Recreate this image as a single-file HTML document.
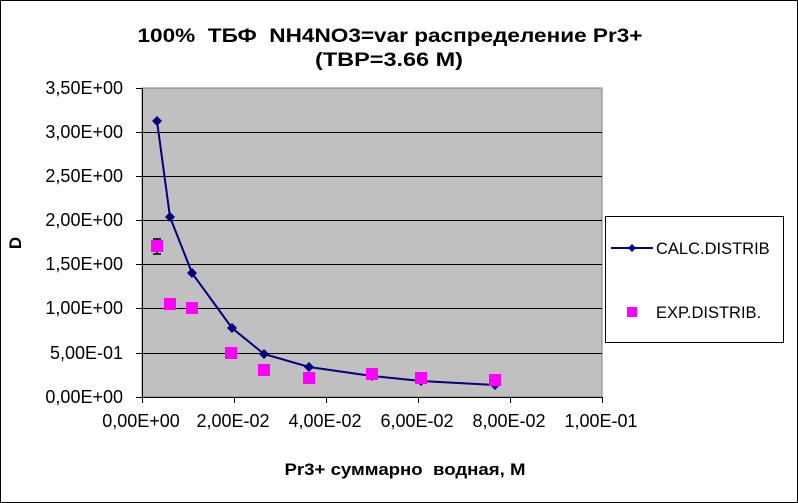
<!DOCTYPE html>
<html><head><meta charset="utf-8"><style>
body{margin:0;background:#fff}
svg{display:block;font-family:"Liberation Sans",Arial,sans-serif}
</style></head><body>
<svg width="798" height="503" viewBox="0 0 798 503">
<rect x="0.5" y="0.5" width="797" height="502" fill="#fff" stroke="#000"/>
<text x="390" y="42" text-anchor="middle" font-size="19" font-weight="bold" style="white-space:pre" textLength="505" lengthAdjust="spacingAndGlyphs">100%  ТБФ  NH4NO3=var распределение Pr3+</text>
<text x="389" y="66" text-anchor="middle" font-size="19" font-weight="bold" textLength="148" lengthAdjust="spacingAndGlyphs">(TBP=3.66 M)</text>
<rect x="142" y="88" width="460" height="309" fill="#c0c0c0" stroke="#808080"/>
<g stroke="#000" stroke-width="1">
<line x1="142" y1="132.5" x2="602" y2="132.5"/>
<line x1="142" y1="176.5" x2="602" y2="176.5"/>
<line x1="142" y1="220.5" x2="602" y2="220.5"/>
<line x1="142" y1="264.5" x2="602" y2="264.5"/>
<line x1="142" y1="308.5" x2="602" y2="308.5"/>
<line x1="142" y1="353.5" x2="602" y2="353.5"/>
<line x1="142.5" y1="88" x2="142.5" y2="397"/>
<line x1="142" y1="397.5" x2="602" y2="397.5"/>
<line x1="136" y1="88.5" x2="142" y2="88.5"/>
<line x1="136" y1="132.5" x2="142" y2="132.5"/>
<line x1="136" y1="176.5" x2="142" y2="176.5"/>
<line x1="136" y1="220.5" x2="142" y2="220.5"/>
<line x1="136" y1="264.5" x2="142" y2="264.5"/>
<line x1="136" y1="308.5" x2="142" y2="308.5"/>
<line x1="136" y1="353.5" x2="142" y2="353.5"/>
<line x1="136" y1="397.5" x2="142" y2="397.5"/>
<line x1="142.5" y1="397" x2="142.5" y2="403"/>
<line x1="234.5" y1="397" x2="234.5" y2="403"/>
<line x1="326.5" y1="397" x2="326.5" y2="403"/>
<line x1="418.5" y1="397" x2="418.5" y2="403"/>
<line x1="510.5" y1="397" x2="510.5" y2="403"/>
<line x1="602.5" y1="397" x2="602.5" y2="403"/>
</g>
<g font-size="18" text-anchor="end">
<text x="123" y="94">3,50E+00</text>
<text x="123" y="138">3,00E+00</text>
<text x="123" y="182">2,50E+00</text>
<text x="123" y="226">2,00E+00</text>
<text x="123" y="270">1,50E+00</text>
<text x="123" y="314">1,00E+00</text>
<text x="123" y="359">5,00E-01</text>
<text x="123" y="403">0,00E+00</text>
</g>
<g font-size="18" text-anchor="middle">
<text x="141" y="427">0,00E+00</text>
<text x="233" y="427">2,00E-02</text>
<text x="325" y="427">4,00E-02</text>
<text x="417" y="427">6,00E-02</text>
<text x="509" y="427">8,00E-02</text>
<text x="601" y="427">1,00E-01</text>
</g>
<text x="405" y="475" text-anchor="middle" font-size="17" font-weight="bold" style="white-space:pre" textLength="241" lengthAdjust="spacingAndGlyphs">Pr3+ суммарно  водная, М</text>
<text transform="translate(21,243) rotate(-90)" text-anchor="middle" font-size="17" font-weight="bold">D</text>
<polyline fill="none" stroke="#000080" stroke-width="2" points="157,121 170,217 192,273 232,328 264,354 309,367 372,376 421,381 495,385"/>
<g fill="#000080">
<path d="M157,116 l5,5 l-5,5 l-5,-5z"/>
<path d="M170,212 l5,5 l-5,5 l-5,-5z"/>
<path d="M192,268 l5,5 l-5,5 l-5,-5z"/>
<path d="M232,323 l5,5 l-5,5 l-5,-5z"/>
<path d="M264,349 l5,5 l-5,5 l-5,-5z"/>
<path d="M309,362 l5,5 l-5,5 l-5,-5z"/>
<path d="M372,371 l5,5 l-5,5 l-5,-5z"/>
<path d="M421,376 l5,5 l-5,5 l-5,-5z"/>
<path d="M495,380 l5,5 l-5,5 l-5,-5z"/>
</g>
<g stroke="#000" stroke-width="1.5"><line x1="157" y1="239" x2="157" y2="254"/><line x1="153" y1="239" x2="161" y2="239"/><line x1="153" y1="254" x2="161" y2="254"/></g>
<g fill="#ff00ff">
<rect x="151" y="240" width="12" height="12"/>
<rect x="164" y="298" width="12" height="12"/>
<rect x="186" y="302" width="12" height="12"/>
<rect x="225" y="347" width="12" height="12"/>
<rect x="258" y="364" width="12" height="12"/>
<rect x="303" y="372" width="12" height="12"/>
<rect x="366" y="368" width="12" height="12"/>
<rect x="415" y="372" width="12" height="12"/>
<rect x="489" y="374" width="12" height="12"/>
</g>
<rect x="605.5" y="216.5" width="178" height="126" fill="#fff" stroke="#000"/>
<line x1="611" y1="248" x2="653" y2="248" stroke="#000080" stroke-width="2"/>
<path d="M632,244 l4,4 l-4,4 l-4,-4z" fill="#000080"/>
<text x="656" y="254" font-size="16.5">CALC.DISTRIB</text>
<rect x="627" y="307" width="10" height="10" fill="#ff00ff"/>
<text x="656" y="318" font-size="16.5">EXP.DISTRIB.</text>
</svg>
</body></html>
